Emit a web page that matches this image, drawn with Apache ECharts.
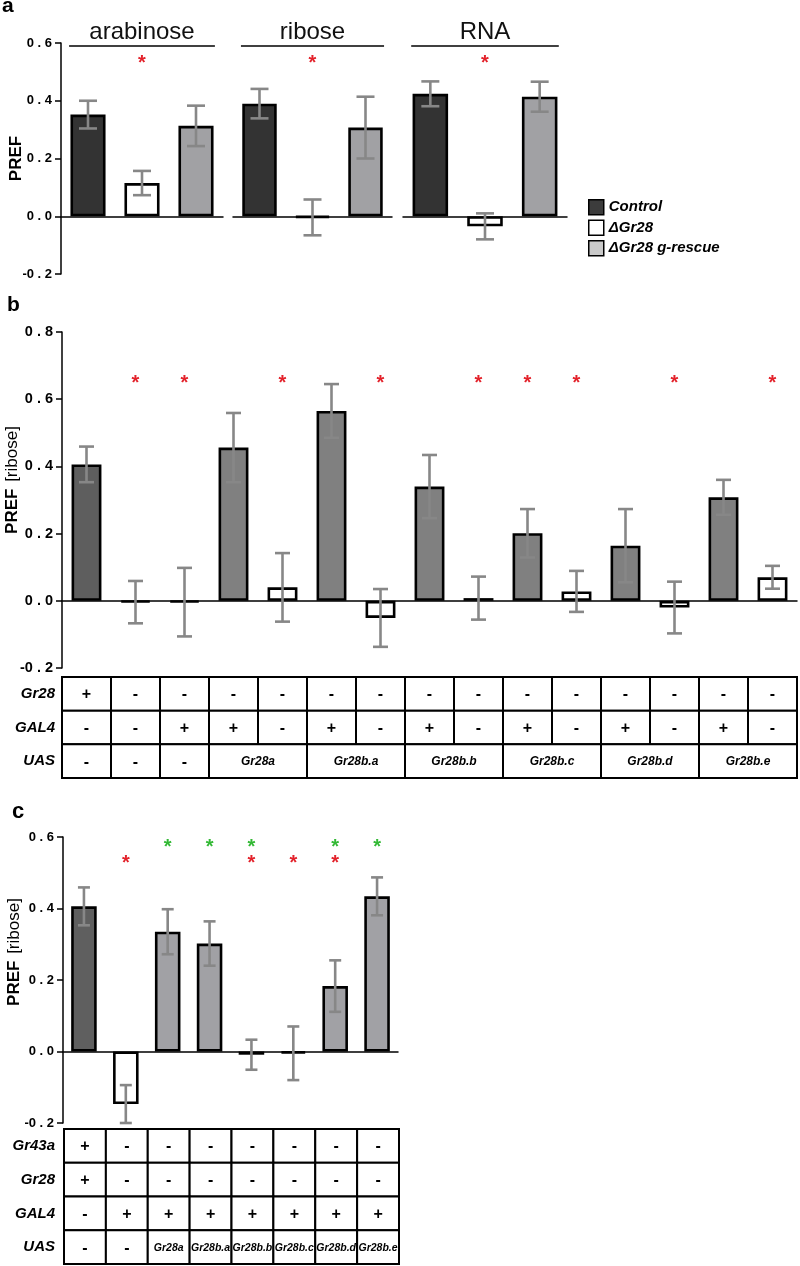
<!DOCTYPE html>
<html>
<head>
<meta charset="utf-8">
<script src="https://cdn.jsdelivr.net/npm/echarts@6/dist/echarts.min.js"></script>
<style>
html,body{margin:0;padding:0;background:#fff;}
#chart{width:800px;height:1266px;}
</style>
</head>
<body>
<div id="chart"></div>
<script>
// ---------- Panel a data ----------
const aGroups = ['arabinose', 'ribose', 'RNA'];
const aSeriesNames = ['Control', '\u0394Gr28', '\u0394Gr28 g-rescue'];
const aControl = [0.352, 0.390, 0.424];
const aControlErr = [0.048, 0.051, 0.043];
const aDelta = [0.115, -0.004, -0.035];
const aDeltaErr = [0.042, 0.062, 0.045];
const aRescue = [0.313, 0.307, 0.414];
const aRescueErr = [0.070, 0.107, 0.052];
const aSig = [0, 1, 0]; // asterisk above the ΔGr28 bar in each group
const aTicks = [-0.2, 0.0, 0.2, 0.4, 0.6];

// ---------- Panel b data ----------
const bMean = [0.406, -0.004, -0.004, 0.456, 0.040, 0.565, -0.051, 0.340, 0.008, 0.201, 0.028, 0.164, -0.020, 0.308, 0.070];
const bErr = [0.053, 0.063, 0.102, 0.103, 0.102, 0.080, 0.086, 0.094, 0.064, 0.072, 0.061, 0.109, 0.077, 0.052, 0.034];
const bGr28 = ['+', '-', '-', '-', '-', '-', '-', '-', '-', '-', '-', '-', '-', '-', '-'];
const bGAL4 = ['-', '-', '+', '+', '-', '+', '-', '+', '-', '+', '-', '+', '-', '+', '-'];
const bUAS = ['-', '-', '-', 'Gr28a', 'Gr28a', 'Gr28b.a', 'Gr28b.a', 'Gr28b.b', 'Gr28b.b', 'Gr28b.c', 'Gr28b.c', 'Gr28b.d', 'Gr28b.d', 'Gr28b.e', 'Gr28b.e'];
const bRows = ['Gr28', 'GAL4', 'UAS'];
const bSig = [0, 1, 1, 0, 1, 0, 1, 0, 1, 1, 1, 0, 1, 0, 1];
const bTicks = [-0.2, 0.0, 0.2, 0.4, 0.6, 0.8];

// ---------- Panel c data ----------
const cMean = [0.406, -0.147, 0.335, 0.302, -0.009, -0.005, 0.183, 0.434];
const cErr = [0.053, 0.053, 0.063, 0.062, 0.042, 0.075, 0.072, 0.053];
const cGr43a = ['+', '-', '-', '-', '-', '-', '-', '-'];
const cGr28 = ['+', '-', '-', '-', '-', '-', '-', '-'];
const cGAL4 = ['-', '+', '+', '+', '+', '+', '+', '+'];
const cUAS = ['-', '-', 'Gr28a', 'Gr28b.a', 'Gr28b.b', 'Gr28b.c', 'Gr28b.d', 'Gr28b.e'];
const cRows = ['Gr43a', 'Gr28', 'GAL4', 'UAS'];
const cSigRed = [0, 1, 0, 0, 1, 1, 1, 0];
const cSigGreen = [0, 0, 1, 1, 1, 0, 1, 1];
const cTicks = [-0.2, 0.0, 0.2, 0.4, 0.6];

// ---------- styling helpers ----------
const FONT = 'Liberation Sans, Arial, sans-serif';
const ERR_COLOR = '#878787';
const RED = '#e3222b';
const GREEN = '#33b935';

function tickFmt(v) {
  const s = Math.abs(v) < 1e-9 ? '0.0' : v.toFixed(1);
  return s.replace('.', ' . ');
}

function errRender(capHalf) {
  return function (params, api) {
    const idx = api.value(0), m = api.value(1), e = api.value(2);
    const top = api.coord([idx, m + e]);
    const bot = api.coord([idx, m - e]);
    const st = { stroke: ERR_COLOR, lineWidth: 2.6 };
    return {
      type: 'group',
      children: [
        { type: 'line', shape: { x1: top[0], y1: top[1], x2: bot[0], y2: bot[1] }, style: st },
        { type: 'line', shape: { x1: top[0] - capHalf, y1: top[1], x2: top[0] + capHalf, y2: top[1] }, style: st },
        { type: 'line', shape: { x1: bot[0] - capHalf, y1: bot[1], x2: bot[0] + capHalf, y2: bot[1] }, style: st }
      ]
    };
  };
}

function starRender(color, size) {
  return function (params, api) {
    const p = api.coord([api.value(0), api.value(1)]);
    return {
      type: 'text', x: p[0], y: p[1] + size * 0.25,
      style: { text: '*', fill: color, font: 'bold ' + size + 'px ' + FONT, align: 'center', verticalAlign: 'middle' }
    };
  };
}

function mergeRow(arr, row) {
  const cells = [];
  let i = 0;
  while (i < arr.length) {
    let span = 1;
    if (arr[i] !== '-' && arr[i] !== '+') {
      while (i + span < arr.length && arr[i + span] === arr[i]) span++;
    }
    cells.push({ col: i, row: row, text: arr[i], span: span });
    i += span;
  }
  return cells;
}

function tableRender(cells, nameFont) {
  return function (params, api) {
    const c = cells[params.dataIndex];
    const p = api.coord([c.col, c.row]);
    const sz = api.size([1, 1]);
    const w = sz[0], h = sz[1];
    const x = p[0] - w / 2, y = p[1] - h / 2;
    const isSign = (c.text === '+' || c.text === '-');
    return {
      type: 'group',
      children: [
        { type: 'rect', shape: { x: x, y: y, width: w * c.span, height: h },
          style: { fill: '#fff', stroke: '#000', lineWidth: 2 } },
        { type: 'text', x: x + w * c.span / 2, y: p[1] + 1,
          style: { text: c.text, fill: '#000', align: 'center', verticalAlign: 'middle',
                   font: isSign ? 'bold 16px ' + FONT : nameFont } }
      ]
    };
  };
}

const gridBase = { outerBoundsMode: 'none', containLabel: false };
const option = {
  animation: false,
  backgroundColor: '#fff',
  textStyle: { fontFamily: FONT },
  legend: {
    orient: 'vertical', left: 583, top: 194, itemWidth: 15, itemHeight: 15, itemGap: 4,
    selectedMode: false, icon: 'rect',
    textStyle: { fontFamily: FONT, fontSize: 15, fontWeight: 'bold', fontStyle: 'italic', color: '#000' },
    data: [
      { name: aSeriesNames[0], itemStyle: { color: '#3c3c3c', borderColor: '#000', borderWidth: 1.5 } },
      { name: aSeriesNames[1], itemStyle: { color: '#fff', borderColor: '#000', borderWidth: 1.5 } },
      { name: aSeriesNames[2], itemStyle: { color: '#c9c9c9', borderColor: '#000', borderWidth: 1.5 } }
    ]
  },
  graphic: [
    { type: 'text', left: 2, top: -4, style: { text: 'a', font: 'bold 21px ' + FONT, fill: '#000' } },
    { type: 'text', left: 7, top: 295, style: { text: 'b', font: 'bold 21px ' + FONT, fill: '#000' } },
    { type: 'text', left: 12, top: 801, style: { text: 'c', font: 'bold 22px ' + FONT, fill: '#000' } }
  ],
  grid: [
    Object.assign({ left: 61, top: 43, width: 162, height: 231 }, gridBase),   // 0 arabinose
    Object.assign({ left: 233, top: 43, width: 159, height: 231 }, gridBase),  // 1 ribose
    Object.assign({ left: 403, top: 43, width: 164, height: 231 }, gridBase),  // 2 RNA
    Object.assign({ left: 62, top: 332, width: 735, height: 336 }, gridBase),  // 3 panel b plot
    Object.assign({ left: 62, top: 677, width: 735, height: 101 }, gridBase),  // 4 panel b table
    Object.assign({ left: 63, top: 837, width: 335, height: 286 }, gridBase),  // 5 panel c plot
    Object.assign({ left: 64, top: 1129, width: 335, height: 135 }, gridBase)  // 6 panel c table
  ],
  xAxis: [],
  yAxis: [],
  series: []
};

// ---------- panel a axes/series ----------
const aVals = [aControl, aDelta, aRescue];
const aErrs = [aControlErr, aDeltaErr, aRescueErr];
const aColors = ['#333333', '#ffffff', '#a1a1a4'];
aGroups.forEach((g, gi) => {
  option.xAxis.push({
    gridIndex: gi, type: 'category', data: aSeriesNames,
    axisLine: { onZero: true, lineStyle: { color: '#000', width: 1.5 } },
    axisTick: { show: false }, axisLabel: { show: false }, splitLine: { show: false }
  });
  option.yAxis.push({
    gridIndex: gi, type: 'value', min: aTicks[0], max: aTicks[aTicks.length - 1], interval: 0.2,
    show: gi === 0,
    name: gi === 0 ? 'PREF' : '', nameLocation: 'middle', nameGap: 36, nameMoveOverlap: false,
    nameTextStyle: { fontFamily: FONT, fontSize: 17, fontWeight: 'bold', color: '#000' },
    axisLine: { show: true, lineStyle: { color: '#000', width: 1.5 } },
    axisTick: { show: true, length: 6, lineStyle: { color: '#000', width: 1.5 } },
    axisLabel: { formatter: tickFmt, fontFamily: FONT, fontWeight: 'bold', fontSize: 13, color: '#000', margin: 9 },
    splitLine: { show: false }
  });
  aSeriesNames.forEach((sn, si) => {
    const data = aSeriesNames.map((_, k) => (k === si ? aVals[si][gi] : '-'));
    option.series.push({
      type: 'bar', name: sn, xAxisIndex: gi, yAxisIndex: gi, data: data,
      barWidth: '65%', barGap: '-100%',
      itemStyle: { color: aColors[si], borderColor: '#000', borderWidth: 2.6 }
    });
  });
  option.series.push({
    type: 'custom', xAxisIndex: gi, yAxisIndex: gi, z: 5,
    renderItem: errRender(9), encode: { x: 0, y: 1 },
    data: aSeriesNames.map((_, si) => [si, aVals[si][gi], aErrs[si][gi]])
  });
  option.series.push({
    type: 'custom', xAxisIndex: gi, yAxisIndex: gi, z: 5,
    renderItem: starRender(RED, 20), encode: { x: 0, y: 1 },
    data: aSig.map((s, k) => (s ? [k, 0.545] : null)).filter(Boolean)
  });
  // group header with underline spanning the group's bars
  option.series.push({
    type: 'custom', xAxisIndex: gi, yAxisIndex: gi, z: 5, encode: { x: 0, y: 1 },
    data: [[1, aTicks[aTicks.length - 1]]],
    renderItem: function (params, api) {
      const band = api.size([1, 0])[0];
      const l = api.coord([0, api.value(1)]);
      const r = api.coord([2, api.value(1)]);
      const m = api.coord([1, api.value(1)]);
      const y = m[1] + 3;
      const half = band * 0.7 / 2;
      return {
        type: 'group',
        children: [
          { type: 'line', shape: { x1: l[0] - half, y1: y, x2: r[0] + half, y2: y }, style: { stroke: '#000', lineWidth: 1.5 } },
          { type: 'text', x: m[0], y: y - 2, style: { text: g, font: '24px ' + FONT, fill: '#111', align: 'center', verticalAlign: 'bottom' } }
        ]
      };
    }
  });
});

// ---------- panel b ----------
const bCats = bMean.map((_, i) => 'b' + (i + 1));
function bColor(i) {
  if (bGr28[i] === '+') return '#5e5e5e';
  if (bGAL4[i] === '+' && bUAS[i] !== '-') return '#808080';
  return '#ffffff';
}
option.xAxis.push({
  gridIndex: 3, type: 'category', data: bCats,
  axisLine: { onZero: true, lineStyle: { color: '#000', width: 1.5 } },
  axisTick: { show: false }, axisLabel: { show: false }, splitLine: { show: false }
});
option.yAxis.push({
  gridIndex: 3, type: 'value', min: bTicks[0], max: bTicks[bTicks.length - 1], interval: 0.2,
  name: '{p|PREF}  {r|[ribose]}', nameLocation: 'middle', nameGap: 41, nameMoveOverlap: false,
  nameTextStyle: { padding: [0, 0, 0, 40], rich: {
    p: { fontFamily: FONT, fontSize: 17, fontWeight: 'bold', color: '#000' },
    r: { fontFamily: FONT, fontSize: 17, color: '#000' } } },
  axisLine: { show: true, lineStyle: { color: '#000', width: 1.5 } },
  axisTick: { show: true, length: 6, lineStyle: { color: '#000', width: 1.5 } },
  axisLabel: { formatter: tickFmt, fontFamily: FONT, fontWeight: 'bold', fontSize: 14.5, color: '#000', margin: 9 },
  splitLine: { show: false }
});
option.series.push({
  type: 'bar', xAxisIndex: 3, yAxisIndex: 3, barWidth: '61%',
  data: bMean.map((v, i) => ({ value: v, itemStyle: { color: bColor(i) } })),
  itemStyle: { borderColor: '#000', borderWidth: 2.6 }
});
option.series.push({
  type: 'custom', xAxisIndex: 3, yAxisIndex: 3, z: 5, renderItem: errRender(7.5), encode: { x: 0, y: 1 },
  data: bMean.map((v, i) => [i, v, bErr[i]])
});
option.series.push({
  type: 'custom', xAxisIndex: 3, yAxisIndex: 3, z: 5, renderItem: starRender(RED, 20), encode: { x: 0, y: 1 },
  data: bSig.map((s, i) => (s ? [i, 0.663] : null)).filter(Boolean)
});
// table b
const bCells = [].concat(
  bGr28.map((t, i) => ({ col: i, row: 0, text: t, span: 1 })),
  bGAL4.map((t, i) => ({ col: i, row: 1, text: t, span: 1 })),
  mergeRow(bUAS, 2)
);
option.xAxis.push({ gridIndex: 4, type: 'category', data: bCats, show: false });
option.yAxis.push({
  gridIndex: 4, type: 'category', data: bRows, inverse: true,
  axisLine: { show: false }, axisTick: { show: false }, splitLine: { show: false },
  axisLabel: { fontFamily: FONT, fontSize: 15, fontWeight: 'bold', fontStyle: 'italic', color: '#000', margin: 7 }
});
option.series.push({
  type: 'custom', xAxisIndex: 4, yAxisIndex: 4, encode: { x: 0, y: 1 },
  renderItem: tableRender(bCells, 'italic bold 12px ' + FONT),
  data: bCells.map(c => [c.col, c.row])
});

// ---------- panel c ----------
const cCats = cMean.map((_, i) => 'c' + (i + 1));
function cColor(i) {
  if (cGr43a[i] === '+') return '#5f5f5f';
  if (cUAS[i] === '-') return '#ffffff';
  return '#a1a1a5';
}
option.xAxis.push({
  gridIndex: 5, type: 'category', data: cCats,
  axisLine: { onZero: true, lineStyle: { color: '#000', width: 1.5 } },
  axisTick: { show: false }, axisLabel: { show: false }, splitLine: { show: false }
});
option.yAxis.push({
  gridIndex: 5, type: 'value', min: cTicks[0], max: cTicks[cTicks.length - 1], interval: 0.2,
  name: '{p|PREF}  {r|[ribose]}', nameLocation: 'middle', nameGap: 40, nameMoveOverlap: false,
  nameTextStyle: { padding: [0, 0, 0, 56], rich: {
    p: { fontFamily: FONT, fontSize: 17, fontWeight: 'bold', color: '#000' },
    r: { fontFamily: FONT, fontSize: 17, color: '#000' } } },
  axisLine: { show: true, lineStyle: { color: '#000', width: 1.5 } },
  axisTick: { show: true, length: 6, lineStyle: { color: '#000', width: 1.5 } },
  axisLabel: { formatter: tickFmt, fontFamily: FONT, fontWeight: 'bold', fontSize: 13, color: '#000', margin: 9 },
  splitLine: { show: false }
});
option.series.push({
  type: 'bar', xAxisIndex: 5, yAxisIndex: 5, barWidth: '61%',
  data: cMean.map((v, i) => ({ value: v, itemStyle: { color: cColor(i) } })),
  itemStyle: { borderColor: '#000', borderWidth: 2.6 }
});
option.series.push({
  type: 'custom', xAxisIndex: 5, yAxisIndex: 5, z: 5, renderItem: errRender(6), encode: { x: 0, y: 1 },
  data: cMean.map((v, i) => [i, v, cErr[i]])
});
option.series.push({
  type: 'custom', xAxisIndex: 5, yAxisIndex: 5, z: 5, renderItem: starRender(GREEN, 20), encode: { x: 0, y: 1 },
  data: cSigGreen.map((s, i) => (s ? [i, 0.585] : null)).filter(Boolean)
});
option.series.push({
  type: 'custom', xAxisIndex: 5, yAxisIndex: 5, z: 5, renderItem: starRender(RED, 20), encode: { x: 0, y: 1 },
  data: cSigRed.map((s, i) => (s ? [i, 0.541] : null)).filter(Boolean)
});
// table c
const cCells = [].concat(
  cGr43a.map((t, i) => ({ col: i, row: 0, text: t, span: 1 })),
  cGr28.map((t, i) => ({ col: i, row: 1, text: t, span: 1 })),
  cGAL4.map((t, i) => ({ col: i, row: 2, text: t, span: 1 })),
  mergeRow(cUAS, 3)
);
option.xAxis.push({ gridIndex: 6, type: 'category', data: cCats, show: false });
option.yAxis.push({
  gridIndex: 6, type: 'category', data: cRows, inverse: true,
  axisLine: { show: false }, axisTick: { show: false }, splitLine: { show: false },
  axisLabel: { fontFamily: FONT, fontSize: 15, fontWeight: 'bold', fontStyle: 'italic', color: '#000', margin: 9 }
});
option.series.push({
  type: 'custom', xAxisIndex: 6, yAxisIndex: 6, encode: { x: 0, y: 1 },
  renderItem: tableRender(cCells, 'italic bold 10.5px ' + FONT),
  data: cCells.map(c => [c.col, c.row])
});

const chart = echarts.init(document.getElementById('chart'), null, { renderer: 'canvas', width: 800, height: 1266 });
chart.setOption(option);
</script>
</body>
</html>
